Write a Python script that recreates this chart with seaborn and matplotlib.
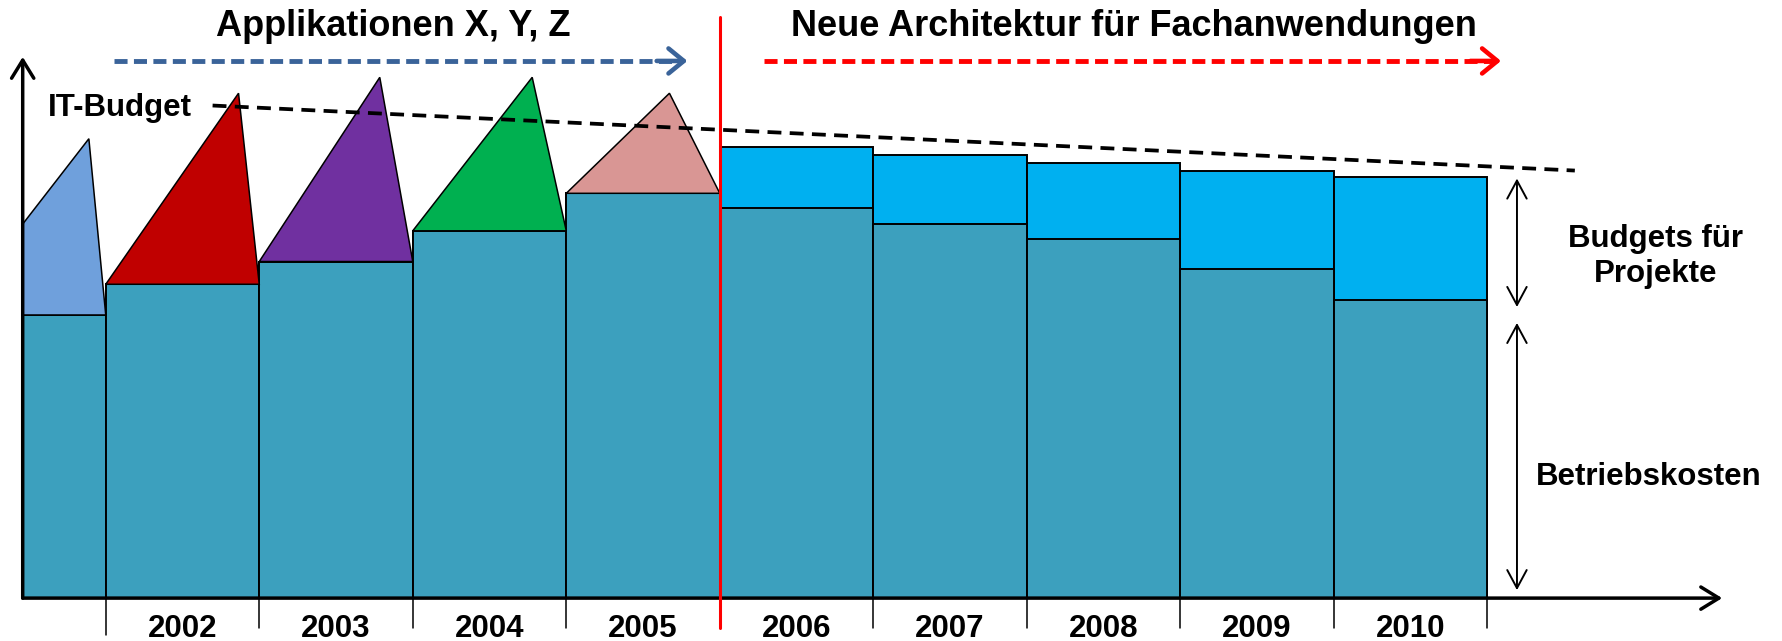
import matplotlib
matplotlib.use("Agg")
import matplotlib.pyplot as plt
import seaborn as sns
import numpy as np
import pandas as pd

# ---------------- data ----------------
years = ["2001", "2002", "2003", "2004", "2005", "2006", "2007", "2008", "2009", "2010"]
year_labels = ["", "2002", "2003", "2004", "2005", "2006", "2007", "2008", "2009", "2010"]
betriebskosten = [62.25, 69.0, 74.0, 80.75, 89.0, 85.75, 82.25, 79.0, 72.25, 65.5]
projektbudgets = [0, 0, 0, 0, 0, 13.5, 15.25, 16.75, 21.75, 27.0]
app_peaks = [101.0, 111.0, 114.5, 114.5, 111.0]          # 2001-2005 application budgets (peak)
app_peak_pos = [0.89, 0.865, 0.785, 0.778, 0.672]         # relative position of peak within year
app_colors = ["#6FA0DC", "#C00000", "#7030A0", "#00B050", "#D99694"]
it_budget_x = [1.196, 10.07]
it_budget_y = [108.3, 94.0]

title_left = "Applikationen X, Y, Z"
title_right = "Neue Architektur für Fachanwendungen"

TEAL = "#3CA0BE"
BRIGHT = "#00B0F0"

sns.set_style("white")
plt.rcParams["font.family"] = ["Liberation Sans", "DejaVu Sans"]
plt.rcParams["text.color"] = "black"
plt.rcParams["lines.scale_dashes"] = False

fig = plt.figure(figsize=(17.83, 6.41), dpi=100)
x0 = 22.7 / 1783
ax = fig.add_axes([x0, 0, 1 - x0, 1])

df = pd.DataFrame({
    "Jahr": years,
    "Betriebskosten": betriebskosten,
    "Gesamt": np.array(betriebskosten) + np.array(projektbudgets),
})

sns.barplot(data=df, x="Jahr", y="Gesamt", color=BRIGHT, saturation=1, width=1,
            edgecolor="black", linewidth=1.4, errorbar=None, ax=ax, zorder=2)
sns.barplot(data=df, x="Jahr", y="Betriebskosten", color=TEAL, saturation=1, width=1,
            edgecolor="black", linewidth=1.4, errorbar=None, ax=ax, zorder=3)

# application budget triangles on top of operating costs
for i, (pk, pos, col) in enumerate(zip(app_peaks, app_peak_pos, app_colors)):
    base = betriebskosten[i]
    left, right = i - 0.5, i + 0.5
    ax.fill([left, left + pos, right], [base, pk, base], facecolor=col,
            edgecolor="black", linewidth=1.1, zorder=4)

ax.set_axis_off()
ax.set_xlim(-0.041, 11.426)
ax.set_ylim(-9.43, 131.5)

# IT budget trend line
ax.plot(it_budget_x, it_budget_y, color="black", lw=2.7, dashes=(10, 6),
        zorder=6, clip_on=False)
ax.text(0.122, 106.0, "IT-Budget", fontsize=22.5, fontweight="bold",
        ha="left", va="baseline", zorder=7)

# axes arrows
axis_arrow = dict(arrowstyle="->,head_length=0.65,head_width=0.4", lw=2.5,
                  color="black", mutation_scale=20, shrinkA=0, shrinkB=0)
ax.annotate("", xy=(11.03, 0), xytext=(-0.041, 0), arrowprops=axis_arrow,
            annotation_clip=False, zorder=8)
ax.annotate("", xy=(-0.041, 119), xytext=(-0.041, 0), arrowprops=axis_arrow,
            annotation_clip=False, zorder=8)

# tick marks and year labels
tick_pos = np.arange(0.5, len(years), 1.0)
for k, tp in enumerate(tick_pos):
    ax.plot([tp, tp], [0, -8.1 if k == 0 else -6.6], color="black", lw=1.1,
            clip_on=False, zorder=5)
for i, lab in enumerate(year_labels):
    if lab:
        ax.text(i, -8.5, lab, fontsize=22.5, fontweight="bold", ha="center",
                va="baseline")

# separation line
ax.plot([4.5, 4.5], [127.75, -6.6], color="#FF0000", lw=2.2, clip_on=False, zorder=9)

# titles and dashed arrows
ax.text(2.371, 123.6, title_left, fontsize=26, fontweight="bold", ha="center", va="baseline")
ax.text(7.196, 123.6, title_right, fontsize=26, fontweight="bold", ha="center", va="baseline")

for (xa, xb, col) in [(0.552, 4.289, "#3A6399"), (4.79, 9.589, "#FF0000")]:
    ax.plot([xa, xb - 0.03], [118.1, 118.1], color=col, lw=3.5, dashes=(9.4, 4.6),
            solid_capstyle="butt", dash_capstyle="butt", clip_on=False)
    ax.annotate("", xy=(xb, 118.1), xytext=(xb - 0.2, 118.1),
                arrowprops=dict(arrowstyle="->,head_length=0.55,head_width=0.45",
                                lw=3.3, color=col, mutation_scale=20,
                                shrinkA=0, shrinkB=0),
                annotation_clip=False)

# right side annotations
dbl = dict(arrowstyle="<->,head_length=0.65,head_width=0.35", lw=1.4,
           color="black", mutation_scale=20, shrinkA=0, shrinkB=0)
ax.annotate("", xy=(9.693, 92.25), xytext=(9.693, 64.0), arrowprops=dbl,
            annotation_clip=False)
ax.annotate("", xy=(9.693, 60.5), xytext=(9.693, 1.75), arrowprops=dbl,
            annotation_clip=False)
ax.text(10.596, 77.25, "Budgets für", fontsize=22.5, fontweight="bold",
        ha="center", va="baseline")
ax.text(10.596, 69.6, "Projekte", fontsize=22.5, fontweight="bold",
        ha="center", va="baseline")
ax.text(10.552, 24.9, "Betriebskosten", fontsize=22.5, fontweight="bold",
        ha="center", va="baseline")

fig.savefig("out.png", dpi=100)
